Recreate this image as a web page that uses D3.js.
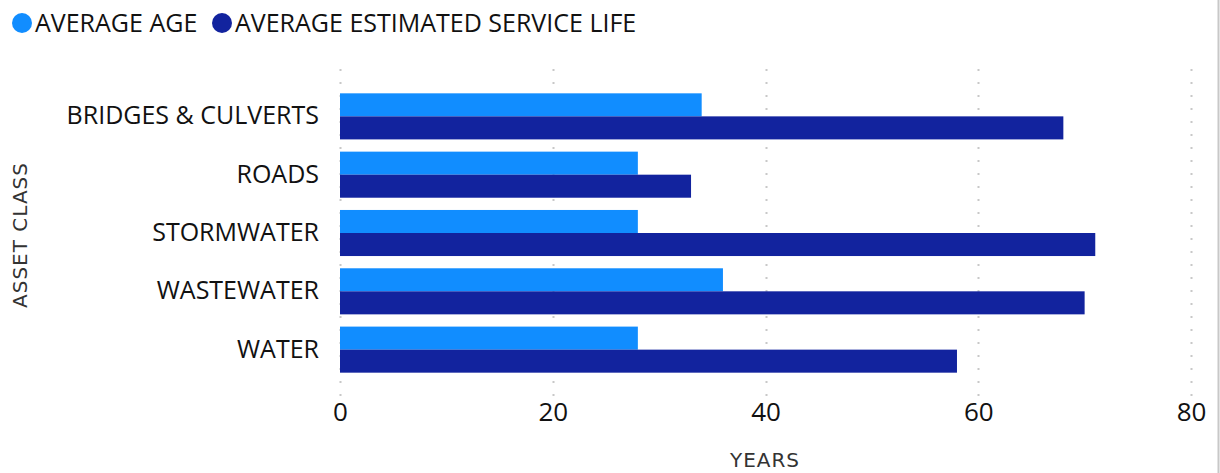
<!DOCTYPE html>
<html>
<head>
<meta charset="utf-8">
<script src="https://cdn.jsdelivr.net/npm/d3@7"></script>
<style>
  body { margin: 0; background: #fff; }
  svg { display: block; font-family: "Open Sans", "Noto Sans", sans-serif; }
</style>
</head>
<body>
<script>
// ---- data ----
var categories = ["BRIDGES & CULVERTS", "ROADS", "STORMWATER", "WASTEWATER", "WATER"];
var seriesNames = ["AVERAGE AGE", "AVERAGE ESTIMATED SERVICE LIFE"];
var averageAge = [34, 28, 28, 36, 28];
var serviceLife = [68, 33, 71, 70, 58];
var xTicks = [0, 20, 40, 60, 80];
var colors = ["#118DFF", "#12239E"];

var W = 1220, H = 473;
var svg = d3.select("body").append("svg").attr("width", W).attr("height", H);

// right edge border
svg.append("line").attr("x1", 1218.5).attr("x2", 1218.5).attr("y1", 0).attr("y2", H)
  .attr("stroke", "#c8c8c8").attr("stroke-width", 2);

var x = d3.scaleLinear().domain([0, 80]).range([340, 1191]);
var y = d3.scaleBand().domain(categories).range([70, 396]).paddingInner(0.21).paddingOuter(0.4);
var ySub = d3.scaleBand().domain([0, 1]).range([0, y.bandwidth()]);

// dotted gridlines
svg.append("g").selectAll("line").data(xTicks).enter().append("line")
  .attr("x1", function(d){ return Math.round(x(d)) + 0.5; })
  .attr("x2", function(d){ return Math.round(x(d)) + 0.5; })
  .attr("y1", 69).attr("y2", 396)
  .attr("stroke", "#c8c8c8").attr("stroke-width", 2)
  .attr("stroke-dasharray", "2,11");

// bars
var rows = categories.map(function(c, i){ return {cat: c, vals: [averageAge[i], serviceLife[i]]}; });
var g = svg.append("g").selectAll("g").data(rows).enter().append("g")
  .attr("transform", function(d){ return "translate(0," + y(d.cat) + ")"; });
g.selectAll("rect").data(function(d){ return d.vals; }).enter().append("rect")
  .attr("x", x(0))
  .attr("y", function(d, i){ return ySub(i); })
  .attr("height", ySub.bandwidth())
  .attr("width", function(d){ return x(d) - x(0); })
  .attr("fill", function(d, i){ return colors[i]; });

// y axis labels
var yAxis = svg.append("g").attr("transform", "translate(319,0)")
  .call(d3.axisLeft(y).tickSize(0).tickPadding(0));
yAxis.select(".domain").remove();
yAxis.selectAll("text").attr("font-size", 25).attr("fill", "#111")
  .attr("font-family", "'Open Sans', 'Noto Sans', sans-serif");

// x axis labels
var xAxis = svg.append("g").attr("transform", "translate(0,403)")
  .call(d3.axisBottom(x).tickValues(xTicks).tickSize(0).tickPadding(0));
xAxis.select(".domain").remove();
xAxis.selectAll("text").attr("font-size", 26).attr("fill", "#111")
  .attr("font-family", "'Open Sans', 'Noto Sans', sans-serif");

// axis titles
svg.append("text").attr("x", 765).attr("y", 467).attr("text-anchor", "middle")
  .attr("font-family", "'DejaVu Sans', sans-serif").attr("letter-spacing", 1)
  .attr("font-size", 20).attr("fill", "#333").text("YEARS");
svg.append("text").attr("transform", "translate(27,235) rotate(-90)")
  .attr("text-anchor", "middle").attr("font-family", "'DejaVu Sans', sans-serif")
  .attr("letter-spacing", 1).attr("font-size", 20).attr("fill", "#333").text("ASSET CLASS");

// legend
var legX = [22, 222];
var leg = svg.append("g").selectAll("g").data(seriesNames).enter().append("g")
  .attr("transform", function(d, i){ return "translate(" + legX[i] + ",23)"; });
leg.append("circle").attr("r", 10).attr("fill", function(d, i){ return colors[i]; });
leg.append("text").attr("x", 13).attr("dy", "0.35em").attr("font-size", 25)
  .attr("fill", "#111").text(function(d){ return d; });
</script>
</body>
</html>
